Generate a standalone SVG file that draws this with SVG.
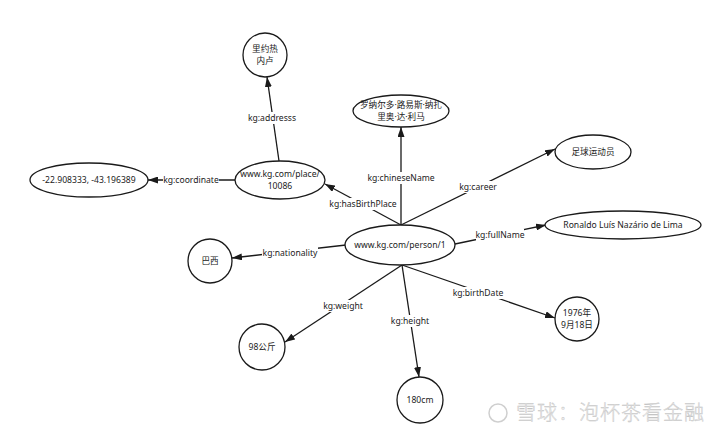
<svg xmlns="http://www.w3.org/2000/svg" width="720" height="441" viewBox="0 0 720 441">
<defs>
<style>
.n{fill:#fff;stroke:#1a1a1a;stroke-width:1.3}
.t{font-family:"Noto Sans","Noto Sans CJK SC",sans-serif;font-size:8.6px;fill:#222;text-anchor:middle;dominant-baseline:central}
.e{stroke:#1a1a1a;stroke-width:1.3;fill:none;marker-end:url(#arr)}
.lb{fill:#fff}
.wm{font-family:"Noto Sans CJK SC","Noto Sans",sans-serif;font-size:20px;font-weight:300;letter-spacing:1px;fill:#ececec;stroke:#bdbdbd;stroke-width:0.35}
</style>
<marker id="arr" viewBox="0 0 10 7" refX="10" refY="3.5" markerWidth="10" markerHeight="7" markerUnits="userSpaceOnUse" orient="auto">
<path d="M0,0 L10,3.5 L0,7 z" fill="#1a1a1a"/>
</marker>
</defs>
<rect width="720" height="441" fill="#fff"/>
<g id="edges">
<line class="e" x1="401" y1="225" x2="325" y2="184"/>
<line class="e" x1="279" y1="161" x2="267" y2="77"/>
<line class="e" x1="235" y1="180" x2="148" y2="180"/>
<line class="e" x1="401" y1="225" x2="401" y2="127"/>
<line class="e" x1="401" y1="225" x2="555" y2="149"/>
<line class="e" x1="455" y1="244" x2="546" y2="225"/>
<line class="e" x1="346" y1="245" x2="232" y2="258"/>
<line class="e" x1="402" y1="265" x2="285" y2="342"/>
<line class="e" x1="402" y1="265" x2="419" y2="377"/>
<line class="e" x1="402" y1="265" x2="555" y2="318"/>
<g id="edge-labels">
<rect class="lb" x="330" y="198" width="66" height="12"/><text class="t" x="363" y="204">kg:hasBirthPlace</text>
<rect class="lb" x="248" y="112" width="48" height="12"/><text class="t" x="272" y="118">kg:addresss</text>
<rect class="lb" x="163" y="174" width="56" height="12"/><text class="t" x="191" y="180">kg:coordinate</text>
<rect class="lb" x="368" y="172" width="66" height="12"/><text class="t" x="401" y="178">kg:chineseName</text>
<rect class="lb" x="459" y="181" width="38" height="12"/><text class="t" x="478" y="187">kg:career</text>
<rect class="lb" x="476" y="229" width="48" height="12"/><text class="t" x="500" y="235">kg:fullName</text>
<rect class="lb" x="262" y="247" width="56" height="12"/><text class="t" x="290" y="253">kg:nationality</text>
<rect class="lb" x="323" y="300" width="40" height="12"/><text class="t" x="343" y="306">kg:weight</text>
<rect class="lb" x="391" y="315" width="39" height="12"/><text class="t" x="410" y="321">kg:height</text>
<rect class="lb" x="453" y="287" width="51" height="12"/><text class="t" x="478" y="293">kg:birthDate</text>
</g>
</g>
<g id="person"><ellipse class="n" cx="400" cy="245" rx="55" ry="20"/><text class="t" x="400" y="245">www.kg.com/person/1</text></g>
<g id="place"><ellipse class="n" cx="280" cy="180" rx="45" ry="19"/><text class="t" x="280" y="174">www.kg.com/place/</text><text class="t" x="280" y="186">10086</text></g>
<g id="coordinate"><ellipse class="n" cx="89" cy="180" rx="59" ry="17"/><text class="t" x="89" y="180">-22.908333, -43.196389</text></g>
<g id="rio"><circle class="n" cx="265" cy="55" r="22"/><text class="t" x="265" y="49">里约热</text><text class="t" x="265" y="61">内卢</text></g>
<g id="chinesename"><ellipse class="n" cx="401" cy="111" rx="48" ry="16"/><text class="t" x="401" y="105">罗纳尔多·路易斯·纳扎</text><text class="t" x="401" y="117">里奥·达·利马</text></g>
<g id="career"><ellipse class="n" cx="593" cy="152" rx="38" ry="17"/><text class="t" x="593" y="152">足球运动员</text></g>
<g id="fullname"><ellipse class="n" cx="623" cy="225" rx="78" ry="14"/><text class="t" x="623" y="225">Ronaldo Luís Nazário de Lima</text></g>
<g id="brazil"><circle class="n" cx="210" cy="261" r="22"/><text class="t" x="210" y="261">巴西</text></g>
<g id="weight"><circle class="n" cx="262" cy="347" r="23"/><text class="t" x="262" y="347">98公斤</text></g>
<g id="height"><circle class="n" cx="420" cy="400" r="23"/><text class="t" x="420" y="400">180cm</text></g>
<g id="birthdate"><circle class="n" cx="577" cy="319" r="22"/><text class="t" x="577" y="313">1976年</text><text class="t" x="577" y="325">9月18日</text></g>
<g id="watermark">
<circle cx="498" cy="413" r="9" fill="none" stroke="#cfcfcf" stroke-width="1.5"/>
<text class="wm" x="516" y="420">雪球：泡杯茶看金融</text>
</g>
</svg>
